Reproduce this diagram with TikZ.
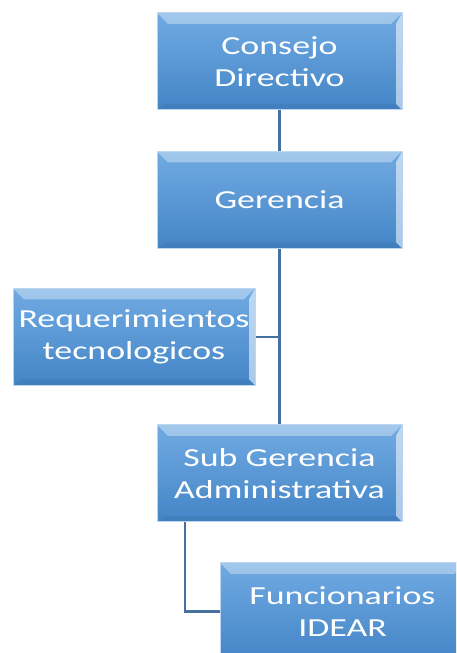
\documentclass[tikz,border=0pt]{standalone}
\usepackage{fontspec}
\setmainfont{Carlito}[FakeStretch=1.38]
\usetikzlibrary{positioning,calc}

\begin{document}
\begin{tikzpicture}[
    x=1pt, y=1pt,
    box/.style ={
        rectangle,
        minimum width=245pt,
        minimum height=97pt,
        inner sep=0pt,
        top color=boxtop,
        bottom color=boxbot,
        draw=boxedge,
        line width=1pt,
        text=white,
        align=center,
        font=\fontsize{26}{32}\selectfont,
        path picture={
            \fill[white,opacity=.35] (path picture bounding box.north west) -- (path picture bounding box.north east)
                -- ([xshift=-11pt,yshift=-11pt]path picture bounding box.north east)
                -- ([xshift=11pt,yshift=-11pt]path picture bounding box.north west) -- cycle;
            \fill[white,opacity=.55] (path picture bounding box.north east) -- (path picture bounding box.south east)
                -- ([xshift=-6pt,yshift=6pt]path picture bounding box.south east)
                -- ([xshift=-6pt,yshift=-11pt]path picture bounding box.north east) -- cycle;
            \fill[boxbot!80!black,opacity=.25] (path picture bounding box.south west) -- (path picture bounding box.south east)
                -- ([xshift=-6pt,yshift=6pt]path picture bounding box.south east)
                -- ([xshift=8pt,yshift=6pt]path picture bounding box.south west) -- cycle;
        }
    },
    link/.style ={
        draw=linkcol,
        line width=2.5pt
    }
    ]
    \definecolor{boxtop}{RGB}{112,170,226}
    \definecolor{boxbot}{RGB}{68,133,199}
    \definecolor{boxedge}{RGB}{190,215,240}
    \definecolor{linkcol}{RGB}{70,112,160}

    \useasboundingbox[clip] (0,0) rectangle (456,653);

    % boxes
    \node[box] (consejo) at (279.5,591.5) {Consejo\\Directivo};
    \node[box] (gerencia) at (279.5,453) {Gerencia};
    \node[box, minimum width=242pt] (req) at (134,316) {Requerimientos\\tecnologicos};
    \node[box] (subger) at (279.5,179.5) {Sub Gerencia\\Administrativa};
    \node[box] (func) at (342.5,41.5) {Funcionarios\\IDEAR};

    % connectors
    \draw[link] (consejo) -- (gerencia);
    \draw[link] (gerencia) -- (subger);
    \draw[link] (req.east) -- (req.east -| gerencia.south);
    \draw[link] ([xshift=-94.5pt]subger.south) |- (func.west);
\end{tikzpicture}
\end{document}
